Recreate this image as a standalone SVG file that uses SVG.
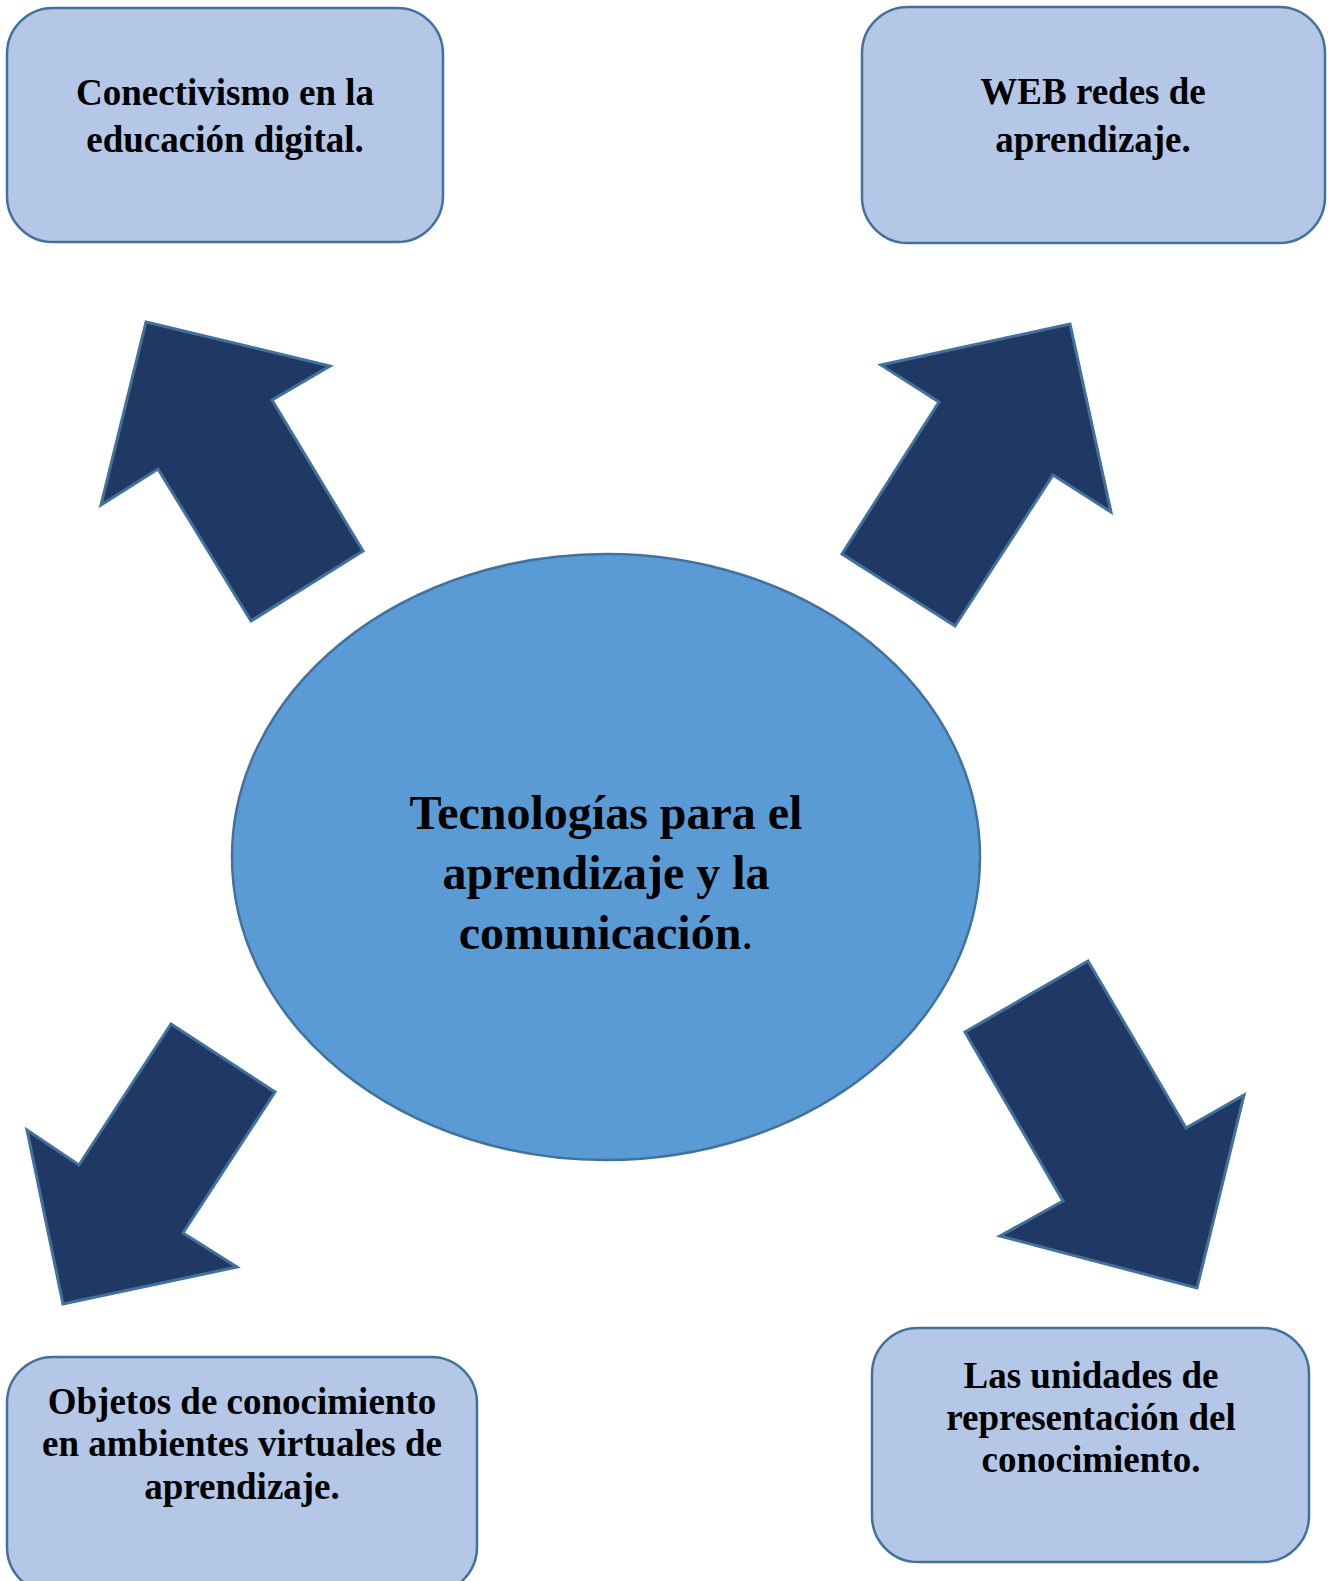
<svg xmlns="http://www.w3.org/2000/svg" width="1332" height="1581" viewBox="0 0 1332 1581">
<style>
.box{fill:#B4C7E7;stroke:#41719C;stroke-width:2.5}
.hub{fill:#5B9BD5;stroke:#41719C;stroke-width:2.5}
.arrow{fill:#203864;stroke:#41719C;stroke-width:3;stroke-linejoin:miter}
.t{font-family:"Liberation Serif","Times New Roman",serif;font-weight:bold;fill:#000;text-anchor:middle}
.s{font-size:37px}
.l{font-size:48px}
.n{font-weight:normal}
</style>
<rect width="1332" height="1581" fill="#fff"/>
<g id="connectors">
<polygon class="arrow" points="146,322 330,366 272,400 363,551 251,621 158,469 101,505"/>
<polygon class="arrow" points="1070,324 1111,512 1053,475 955,626 842,554 939,402 881,365"/>
<polygon class="arrow" points="171,1024 275,1092 183,1233 237,1267 63,1304 27,1130 79,1165"/>
<polygon class="arrow" points="1088,961 965,1032 1063,1201 1000,1236 1197,1288 1244,1095 1186,1128"/>
</g>
<g id="hub">
<ellipse class="hub" cx="606" cy="857" rx="374" ry="303"/>
<text class="t l" x="606" y="829">Tecnologías para el</text>
<text class="t l" x="606" y="889">aprendizaje y la</text>
<text class="t l" x="606" y="949">comunicación<tspan class="n">.</tspan></text>
</g>
<g id="node-conectivismo">
<rect class="box" x="7" y="8" width="436" height="234" rx="46" ry="46"/>
<text class="t s" x="225" y="105">Conectivismo en la</text>
<text class="t s" x="225" y="152">educación digital.</text>
</g>
<g id="node-web">
<rect class="box" x="862" y="7" width="463" height="236" rx="46" ry="46"/>
<text class="t s" x="1093" y="104">WEB redes de</text>
<text class="t s" x="1093" y="152">aprendizaje.</text>
</g>
<g id="node-objetos">
<rect class="box" x="7" y="1357" width="470" height="236" rx="46" ry="46"/>
<text class="t s" x="242" y="1414">Objetos de conocimiento</text>
<text class="t s" x="242" y="1456">en ambientes virtuales de</text>
<text class="t s" x="242" y="1499">aprendizaje.</text>
</g>
<g id="node-unidades">
<rect class="box" x="872" y="1328" width="437" height="234" rx="46" ry="46"/>
<text class="t s" x="1091" y="1388">Las unidades de</text>
<text class="t s" x="1091" y="1430">representación del</text>
<text class="t s" x="1091" y="1472">conocimiento.</text>
</g>
</svg>
